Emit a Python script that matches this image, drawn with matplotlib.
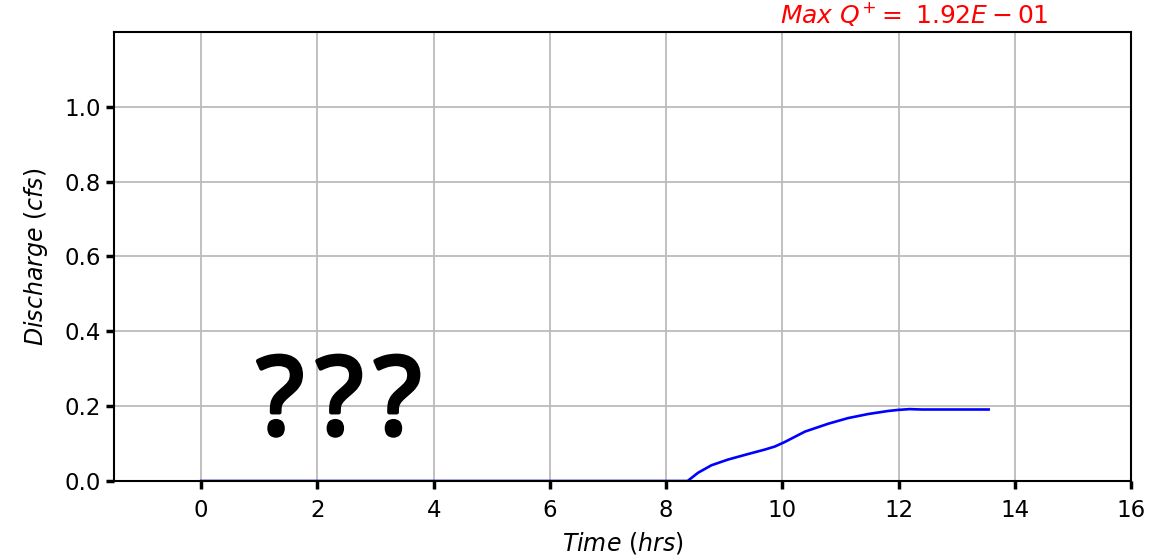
import matplotlib
matplotlib.use("Agg")
import matplotlib.pyplot as plt
import matplotlib.patheffects as pe

# Outflow hydrograph (hours, cfs)
time_hrs = [0.0, 2.0, 4.0, 6.0, 8.0, 8.37, 8.55, 8.78, 9.06, 9.41, 9.7, 9.87, 10.04, 10.39,
            10.79, 11.13, 11.48, 11.82, 12.0, 12.19, 12.4, 13.0, 13.55]
discharge_cfs = [0.0, 0.0, 0.0, 0.0, 0.0, 0.0, 0.022, 0.042, 0.057, 0.072, 0.084, 0.092, 0.104, 0.132,
                 0.153, 0.168, 0.179, 0.187, 0.190, 0.192, 0.191, 0.191, 0.191]

x_ticks = [0, 2, 4, 6, 8, 10, 12, 14, 16]
y_ticks = [0.0, 0.2, 0.4, 0.6, 0.8, 1.0]
max_q = max(discharge_cfs)

fig = plt.figure(figsize=(11.73, 5.58), dpi=100)
ax = fig.add_axes([0.0972, 0.138, 0.867, 0.805])

ax.plot(time_hrs, discharge_cfs, color="blue", lw=1.9)

ax.set_xlim(-1.5, 16)
ax.set_ylim(0, 1.2)
ax.set_xticks(x_ticks)
ax.set_yticks(y_ticks)
ax.set_yticklabels([f"{v:.1f}" for v in y_ticks])
ax.grid(True, color="#bbbbbb", lw=1.3)
ax.set_axisbelow(True)
ax.tick_params(axis="both", labelsize=16.5, width=2.5, length=6, color="black")
ax.tick_params(axis="x", pad=7)
for s in ax.spines.values():
    s.set_linewidth(1.5)
    s.set_color("black")

ax.set_xlabel(r"$Time\ (hrs)$", fontsize=17, labelpad=6)
ax.set_ylabel(r"$Discharge\ (cfs)$", fontsize=17, labelpad=10)

ax.text(0.787, 1.008, r"$Max\ Q^{+} =\ %.2fE-01$" % (max_q * 10), transform=ax.transAxes,
        color="red", fontsize=18, ha="center", va="bottom")

# placeholder marks, one glyph each, slightly heavier outline
for xq in (1.36, 2.38, 3.38):
    ax.text(xq, 0.2, "?", fontsize=78, ha="center", va="center", color="black",
            family="Noto Sans",
            path_effects=[pe.withStroke(linewidth=3, foreground="black")])

fig.savefig("out.png", dpi=100)
